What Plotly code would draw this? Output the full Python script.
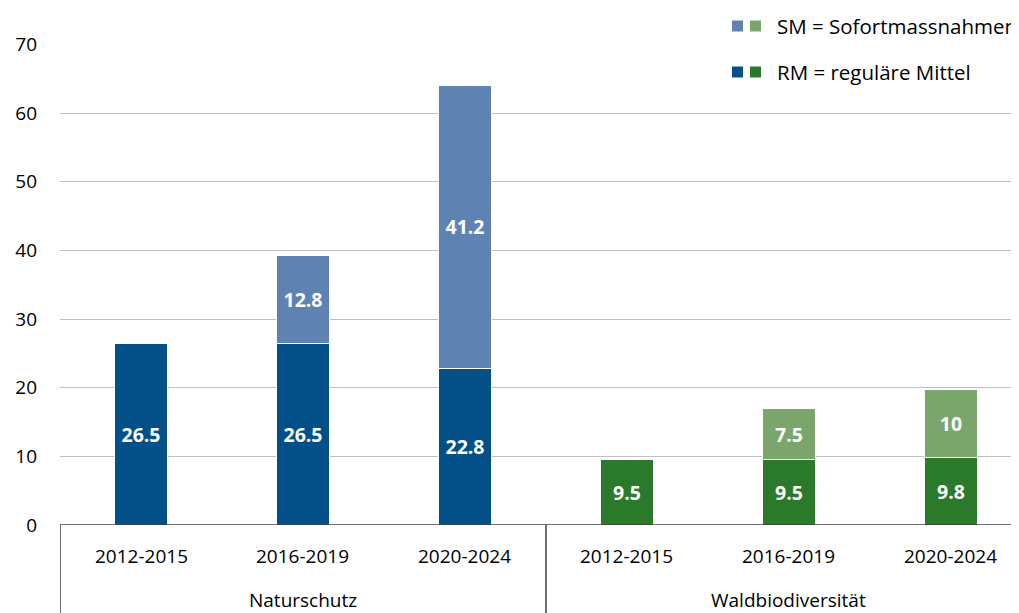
import plotly.graph_objects as go

periods = ["2012-2015", "2016-2019", "2020-2024"]
groups = ["Naturschutz", "Waldbiodiversität"]
rm_natur = [26.5, 26.5, 22.8]
sm_natur = [None, 12.8, 41.2]
rm_wald = [9.5, 9.5, 9.8]
sm_wald = [None, 7.5, 10]
y_ticks = [0, 10, 20, 30, 40, 50, 60, 70]
legend_labels = ["SM = Sofortmassnahmen", "RM = reguläre Mittel"]

C_RM_N = "#034f88"
C_SM_N = "#5e83b3"
C_RM_W = "#2b7a2b"
C_SM_W = "#7aa66b"

FONT = "Open Sans"
n = len(periods)
xn = list(range(n))
xw = list(range(n, 2 * n))

# page has an 8px body margin: plot area 60..1019 x 44..525 in window pixels
OFF = 8
PL, PT, PB = 60, 44, 525
PW = 1019 - PL
PH = PB - PT

fig = go.Figure()

def bar(x, y, color):
    fig.add_trace(go.Bar(
        x=x, y=y, marker=dict(color=color, line=dict(color="white", width=1)),
        width=0.33, text=[("" if v is None else f"{v:g}") for v in y],
        textposition="inside", insidetextanchor="middle",
        textfont=dict(family=FONT, size=19.5, color="white", weight="bold"),
        textangle=0, showlegend=False, hoverinfo="skip", cliponaxis=False,
    ))

bar(xn, rm_natur, C_RM_N)
bar(xw, rm_wald, C_RM_W)
bar(xn, sm_natur, C_SM_N)
bar(xw, sm_wald, C_SM_W)

fig.update_layout(
    barmode="stack",
    width=1019 - OFF, height=613 - OFF,
    margin=dict(l=PL - OFF, r=0, t=PT - OFF, b=613 - PB, autoexpand=False),
    plot_bgcolor="white", paper_bgcolor="white",
    showlegend=False,
    uniformtext=dict(mode=False),
    xaxis=dict(range=[-0.5, 5.42], showticklabels=False, showgrid=False,
               zeroline=False, showline=False, fixedrange=True),
    yaxis=dict(range=[0, 70.05], tickvals=y_ticks, showgrid=True,
               gridcolor="#bfbfbf", gridwidth=1, zeroline=False,
               showline=False, ticks="", ticklabelstandoff=22,
               tickfont=dict(family=FONT, size=19, color="black")),
    font=dict(family=FONT, color="black"),
)

def py(ypix):
    return (PB - ypix) / PH

def px(xpix):
    return (xpix - PL) / PW

# x axis line and category boxes
shapes = [
    dict(type="line", xref="paper", yref="y", x0=0, x1=1, y0=0, y1=0,
         line=dict(color="#404040", width=1.5)),
    dict(type="line", xref="x", yref="paper", x0=-0.5, x1=-0.5, y0=0, y1=-0.3,
         line=dict(color="#404040", width=1.5)),
    dict(type="line", xref="x", yref="paper", x0=n - 0.5, x1=n - 0.5, y0=0, y1=-0.3,
         line=dict(color="#404040", width=1.5)),
]
annotations = []
for gi, g in enumerate(groups):
    for pi, p in enumerate(periods):
        annotations.append(dict(x=gi * n + pi, y=py(556), xref="x", yref="paper",
                                text=p, showarrow=False, yanchor="middle",
                                font=dict(family=FONT, size=19, color="black")))
    annotations.append(dict(x=gi * n + (n - 1) / 2, y=py(600), xref="x", yref="paper",
                            text=g, showarrow=False, yanchor="middle",
                            font=dict(family=FONT, size=19, color="black")))

# legend (custom, with white background)
shapes.append(dict(type="rect", xref="paper", yref="paper", x0=px(707), x1=1.01,
                   y0=py(95), y1=py(-20), fillcolor="white", line=dict(width=0), layer="above"))
leg_rows = [(legend_labels[0], C_SM_N, C_SM_W, 26), (legend_labels[1], C_RM_N, C_RM_W, 72)]
for label, c1, c2, ypix in leg_rows:
    for x0, c in ((732, c1), (750, c2)):
        shapes.append(dict(type="rect", xref="paper", yref="paper",
                           x0=px(x0), x1=px(x0 + 11),
                           y0=py(ypix + 5.5), y1=py(ypix - 5.5),
                           fillcolor=c, line=dict(width=0), layer="above"))
    annotations.append(dict(x=px(775), y=py(ypix), xref="paper", yref="paper",
                            text=label, showarrow=False, xanchor="left", yanchor="middle",
                            font=dict(family=FONT, size=20.5, color="black")))

fig.update_layout(shapes=shapes, annotations=annotations)
fig.write_html("out.html")
